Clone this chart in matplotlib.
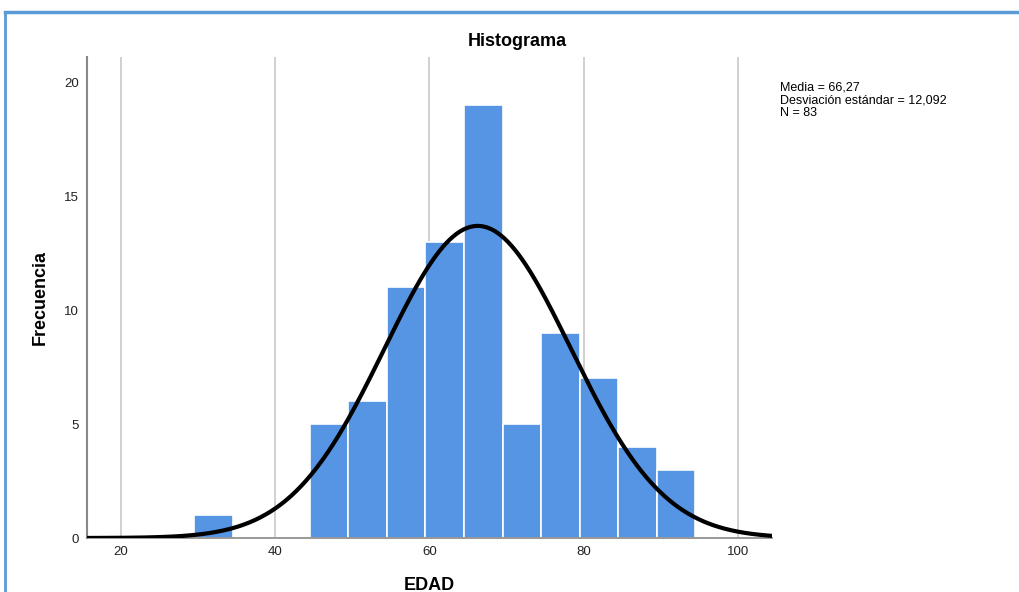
import numpy as np
import matplotlib
matplotlib.use("Agg")
import matplotlib.pyplot as plt
from matplotlib.lines import Line2D

bin_edges = [29.5, 34.5, 39.5, 44.5, 49.5, 54.5, 59.5, 64.5, 69.5, 74.5, 79.5, 84.5, 89.5, 94.5]
counts = [1, 0, 0, 5, 6, 11, 13, 19, 5, 9, 7, 4, 3]
mean = 66.27
sd = 12.092
n = 83
bin_width = 5
x_ticks = [20, 40, 60, 80, 100]
y_ticks = [0, 5, 10, 15, 20]

plt.rcParams['font.family'] = ['Liberation Sans', 'DejaVu Sans']
fig = plt.figure(figsize=(10.2, 5.92), dpi=100)
ax = fig.add_axes([0.0853, 0.0912, 0.672, 0.8125])

ax.set_xlim(15.6, 104.5)
ax.set_ylim(0, 21.1)
for t in x_ticks:
    ax.axvline(t, color='#c8c8c8', lw=1.2, zorder=0)

lefts = bin_edges[:-1]
ax.bar(lefts, counts, width=np.diff(bin_edges), align='edge', color='#5694e4',
       edgecolor='white', linewidth=1.2, zorder=2)

xs = np.linspace(15.6, 104.5, 400)
ys = n * bin_width / (sd * np.sqrt(2 * np.pi)) * np.exp(-0.5 * ((xs - mean) / sd) ** 2)
ax.plot(xs, ys, color='black', lw=3, zorder=3, solid_capstyle='round')

ax.set_xticks(x_ticks)
ax.set_yticks(y_ticks)
ax.tick_params(length=0, labelsize=9.5, colors='#222222', pad=6)
for s in ['top', 'right']:
    ax.spines[s].set_visible(False)
ax.spines['left'].set_color('#888888')
ax.spines['bottom'].set_color('#888888')
ax.spines['left'].set_linewidth(1.5)
ax.spines['bottom'].set_linewidth(1.2)

fig.text(517/1020, 1 - 41/592, 'Histograma', fontsize=13, fontweight='bold',
         ha='center', va='center')
ax.set_ylabel('Frecuencia', fontsize=13, fontweight='bold')
ax.yaxis.set_label_coords(-0.0686, 0.5)
ax.yaxis.label.set_va('center')
ax.set_xlabel('EDAD', fontsize=13, fontweight='bold')
ax.xaxis.set_label_coords(0.5, -0.0977)
ax.xaxis.label.set_va('center')

fig.text(0.765, 0.862, 'Media = 66,27\nDesviación estándar = 12,092\nN = 83',
         fontsize=9, va='top', ha='left', linespacing=1.05)

fig.add_artist(Line2D([5/1020, 5/1020], [0, 1 - 12/592], transform=fig.transFigure,
                      color='#5b9bd5', lw=2))
fig.add_artist(Line2D([5/1020, 1], [1 - 12/592, 1 - 12/592], transform=fig.transFigure,
                      color='#5b9bd5', lw=2.5))

fig.savefig('out.png', dpi=100)
